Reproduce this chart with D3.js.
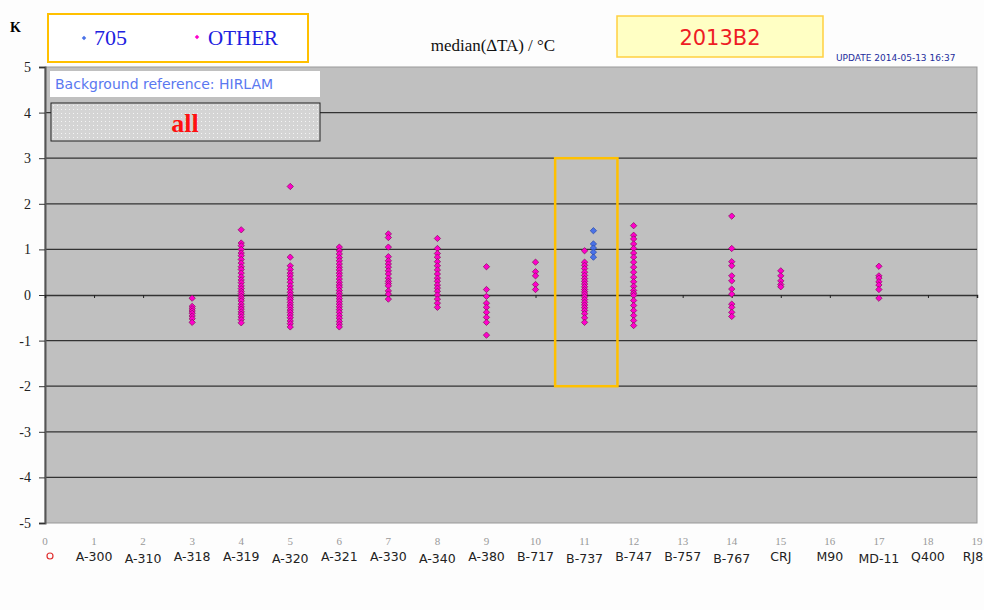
<!DOCTYPE html>
<html>
<head>
<meta charset="utf-8">
<title>median dTA by aircraft type</title>
<script src="https://cdnjs.cloudflare.com/ajax/libs/d3/7.8.5/d3.min.js"></script>
<style>
 body { margin: 0; background: #fdfdfd; }
 text { font-family: "DejaVu Sans", Verdana, sans-serif; }
 .serif { font-family: "Liberation Serif", "DejaVu Serif", serif; }
 .grid { stroke: #333; stroke-width: 1.3px; }
</style>
</head>
<body>
<svg id="viz" width="984" height="610"></svg>
<script>

// aircraft types, index 1..19 on the x axis (index 0 is an empty slot)
var types = ["A-300","A-310","A-318","A-319","A-320","A-321","A-330","A-340","A-380",
             "B-717","B-737","B-747","B-757","B-767","CRJ","M90","MD-11","Q400","RJ85"];
var xTicks = [0,1,2,3,4,5,6,7,8,9,10,11,12,13,14,15,16,17,18,19];
var yTicks = [5,4,3,2,1,0,-1,-2,-3,-4,-5];

// "OTHER" series: median dTA per aircraft, grouped by type index
var otherX = [3,4,5,6,7,8,9,10,11,12,14,15,17];
var otherValues = [
  [-0.07,-0.25,-0.3,-0.35,-0.4,-0.46,-0.52,-0.6],
  [1.43,1.14,1.08,1.0,0.92,0.86,0.78,0.7,0.62,0.56,0.48,0.4,0.33,0.27,0.2,0.14,0.08,0.03,-0.03,-0.08,-0.13,-0.2,-0.26,-0.31,-0.37,-0.42,-0.48,-0.54,-0.61],
  [2.38,0.83,0.64,0.56,0.48,0.42,0.35,0.28,0.2,0.13,0.06,0.0,-0.06,-0.1,-0.16,-0.22,-0.27,-0.33,-0.38,-0.44,-0.5,-0.57,-0.63,-0.7],
  [1.05,0.97,0.9,0.82,0.75,0.68,0.61,0.55,0.48,0.42,0.35,0.28,0.22,0.17,0.1,0.04,-0.02,-0.08,-0.14,-0.2,-0.26,-0.32,-0.38,-0.45,-0.51,-0.58,-0.64,-0.7],
  [1.34,1.26,1.05,0.84,0.75,0.68,0.61,0.53,0.46,0.37,0.3,0.25,0.2,0.09,0.02,-0.09],
  [1.24,1.02,0.91,0.83,0.73,0.64,0.55,0.46,0.37,0.3,0.22,0.15,0.08,0.0,-0.09,-0.18,-0.27],
  [0.62,0.12,-0.03,-0.18,-0.27,-0.38,-0.49,-0.6,-0.88],
  [0.72,0.51,0.42,0.23,0.12],
  [0.97,0.72,0.65,0.58,0.5,0.43,0.36,0.3,0.24,0.18,0.12,0.07,0.02,-0.04,-0.1,-0.16,-0.22,-0.28,-0.34,-0.41,-0.5,-0.6],
  [1.52,1.31,1.23,1.12,1.02,0.92,0.83,0.72,0.61,0.5,0.39,0.29,0.19,0.1,0.04,-0.01,-0.12,-0.23,-0.34,-0.45,-0.56,-0.67],
  [1.73,1.02,0.73,0.64,0.42,0.31,0.13,0.02,-0.2,-0.27,-0.38,-0.47],
  [0.53,0.42,0.31,0.23,0.18],
  [0.63,0.42,0.37,0.29,0.22,0.12,-0.07]
];

// "705" series, plotted just right of B-737
var s705X = 11.18;
var s705Values = [1.41,1.12,1.03,0.94,0.83];

// highlighted range around B-737
var boxX = [10.4, 11.67];
var boxY = [3, -2];

var svg = d3.select("#viz");

var x = d3.scaleLinear().domain([0,19]).range([45,977]);
var y = d3.scaleLinear().domain([-5,5]).range([523,67]);

// plot area
svg.append("rect")
  .attr("x",x(0)).attr("y",y(5))
  .attr("width",x(19)-x(0)).attr("height",y(-5)-y(5))
  .attr("fill","#c0c0c0").attr("stroke","#999");

// horizontal gridlines
svg.selectAll(".grid")
  .data(yTicks.filter(function(d){ return d!==5 && d!==-5 && d!==0; }))
  .enter().append("line")
  .attr("class","grid")
  .attr("x1",x(0)).attr("x2",x(19))
  .attr("y1",function(d){ return y(d); })
  .attr("y2",function(d){ return y(d); });

// y axis
var yAxis = d3.axisLeft(y).tickValues(yTicks).tickSize(6).tickPadding(8)
  .tickFormat(function(d){ return d<0 ? "-"+Math.abs(d) : d; });
var gy = svg.append("g").attr("transform","translate("+x(0)+",0)").call(yAxis);
gy.select(".domain").attr("stroke","#555").attr("stroke-width",2);
gy.selectAll(".tick line").attr("stroke","#333");
gy.selectAll("text").attr("class","serif").attr("font-size",14).attr("fill","#222");

// zero line acts as x axis, small ticks below
var xAxis = d3.axisBottom(x).tickValues(xTicks).tickSize(3).tickFormat("");
var gx = svg.append("g").attr("transform","translate(0,"+y(0)+")").call(xAxis);
gx.select(".domain").attr("stroke","#333").attr("stroke-width",1.5);
gx.selectAll(".tick line").attr("stroke","#222");

// numeric tick labels under the plot
svg.selectAll(".xnum").data(xTicks).enter().append("text")
  .attr("x",function(d){ return x(d); })
  .attr("y",545)
  .attr("text-anchor","middle")
  .attr("font-size",11).attr("fill","#999")
  .attr("class","serif")
  .text(function(d){ return d; });

// aircraft type labels
svg.selectAll(".xcat").data(types).enter().append("text")
  .attr("x",function(d,i){ return x(i+1); })
  .attr("y",function(d,i){ return i%3===1 ? 563 : 561; })
  .attr("text-anchor","middle")
  .attr("font-size",12.5).attr("fill","#222")
  .text(function(d){ return d; });

svg.append("circle").attr("cx",50).attr("cy",556).attr("r",3)
  .attr("fill","none").attr("stroke","#e03030").attr("stroke-width",1.2);

// highlight box
svg.append("rect")
  .attr("x",x(boxX[0])).attr("y",y(boxY[0]))
  .attr("width",x(boxX[1])-x(boxX[0])).attr("height",y(boxY[1])-y(boxY[0]))
  .attr("fill","none").attr("stroke","#ffc000").attr("stroke-width",2.5);

// points: small squares turned 45 degrees
var marker = d3.symbol().type(d3.symbolSquare).size(20);

var otherPts = [];
otherX.forEach(function(xi,i){
  otherValues[i].forEach(function(v){ otherPts.push({x:xi, v:v}); });
});

svg.append("g").selectAll("path").data(otherPts).enter().append("path")
  .attr("d",marker)
  .attr("transform",function(d){ return "translate("+x(d.x)+","+y(d.v)+") rotate(45)"; })
  .attr("fill","#ff00cc").attr("stroke","#8a1060").attr("stroke-width",0.7);

svg.append("g").selectAll("path").data(s705Values).enter().append("path")
  .attr("d",marker)
  .attr("transform",function(d){ return "translate("+x(s705X)+","+y(d)+") rotate(45)"; })
  .attr("fill","#4a72e8").attr("stroke","#2a4aa8").attr("stroke-width",0.7);

// "K" unit label
svg.append("text").attr("class","serif").attr("x",10).attr("y",32)
  .attr("font-size",14).attr("font-weight","bold").text("K");

// legend box
var legMark = d3.symbol().type(d3.symbolSquare).size(10);
svg.append("rect").attr("x",48).attr("y",14).attr("width",260).attr("height",48)
  .attr("fill","#fff").attr("stroke","#ffc000").attr("stroke-width",2);
svg.append("path").attr("d",legMark)
  .attr("transform","translate(84,38) rotate(45)").attr("fill","#4a72e8");
svg.append("text").attr("class","serif").attr("x",94).attr("y",45)
  .attr("font-size",22).attr("fill","#2020e0").text("705");
svg.append("path").attr("d",legMark)
  .attr("transform","translate(197,37) rotate(45)").attr("fill","#ff00cc");
svg.append("text").attr("class","serif").attr("x",208).attr("y",45)
  .attr("font-size",21).attr("fill","#2020e0").text("OTHER");

// title
svg.append("text").attr("class","serif").attr("x",493).attr("y",51)
  .attr("text-anchor","middle").attr("font-size",17).attr("fill","#111")
  .text("median(\u2206TA) / \u00b0C");

// season box
svg.append("rect").attr("x",617).attr("y",16).attr("width",206).attr("height",41)
  .attr("fill","#ffffc4").attr("stroke","#ffd040").attr("stroke-width",1.5);
svg.append("text").attr("x",720).attr("y",45)
  .attr("text-anchor","middle").attr("font-size",21).attr("fill","#ee1c24")
  .text("2013B2");

// update stamp
svg.append("text").attr("x",836).attr("y",61)
  .attr("font-size",9).attr("fill","#1c2c9c").attr("font-family","Arial, Liberation Sans, sans-serif")
  .text("UPDATE 2014-05-13 16:37");

// background reference label
svg.append("rect").attr("x",50).attr("y",71).attr("width",270).attr("height",26)
  .attr("fill","#fff");
svg.append("text").attr("x",55).attr("y",89)
  .attr("font-size",14).attr("fill","#5a78f0")
  .text("Background reference: HIRLAM");

// dotted "all" box
var defs = svg.append("defs");
var pat = defs.append("pattern").attr("id","dots").attr("patternUnits","userSpaceOnUse")
  .attr("width",4).attr("height",4);
pat.append("rect").attr("width",4).attr("height",4).attr("fill","#d4d4d4");
pat.append("rect").attr("x",1).attr("y",1).attr("width",1).attr("height",1).attr("fill","#f4f4f4");

svg.append("rect").attr("x",51).attr("y",103).attr("width",269).attr("height",38)
  .attr("fill","url(#dots)").attr("stroke","#222").attr("stroke-width",1);
svg.append("text").attr("class","serif").attr("x",185).attr("y",132)
  .attr("text-anchor","middle").attr("font-size",26).attr("font-weight","bold")
  .attr("fill","#ff1010").text("all");

</script>
</body>
</html>
